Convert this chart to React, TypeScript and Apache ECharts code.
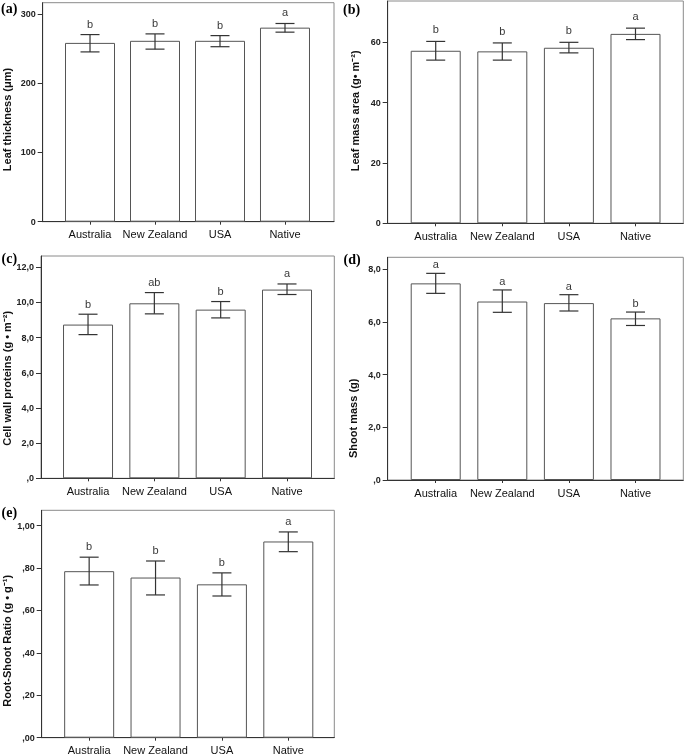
import React, { useEffect, useRef } from 'react';
import * as echarts from 'echarts';

const categories = ['Australia', 'New Zealand', 'USA', 'Native'];
const categoryPositions = [0, 1, 2, 3];

// (a) Leaf thickness
const thicknessMean = [258, 261, 261, 280];
const thicknessHigh = [270, 271, 268.5, 286];
const thicknessLow = [245, 249, 252.5, 273.5];
const thicknessLetters = ['b', 'b', 'b', 'a'];
const thicknessTicks = [0, 100, 200, 300];
const thicknessTickLabels = ['0', '100', '200', '300'];

// (b) Leaf mass area
const lmaMean = [57.2, 57.0, 58.2, 62.8];
const lmaHigh = [60.3, 59.8, 60.0, 64.7];
const lmaLow = [54.1, 54.1, 56.5, 60.9];
const lmaLetters = ['b', 'b', 'b', 'a'];
const lmaTicks = [0, 20, 40, 60];
const lmaTickLabels = ['0', '20', '40', '60'];

// (c) Cell wall proteins
const cwpMean = [8.74, 9.95, 9.59, 10.73];
const cwpHigh = [9.33, 10.56, 10.05, 11.05];
const cwpLow = [8.17, 9.35, 9.12, 10.45];
const cwpLetters = ['b', 'ab', 'b', 'a'];
const cwpTicks = [0, 2, 4, 6, 8, 10, 12];
const cwpTickLabels = [',0', '2,0', '4,0', '6,0', '8,0', '10,0', '12,0'];

// (d) Shoot mass
const shootMean = [7.47, 6.78, 6.72, 6.14];
const shootHigh = [7.85, 7.22, 7.04, 6.38];
const shootLow = [7.09, 6.37, 6.42, 5.87];
const shootLetters = ['a', 'a', 'a', 'b'];
const shootTicks = [0, 2, 4, 6, 8];
const shootTickLabels = [',0', '2,0', '4,0', '6,0', '8,0'];

// (e) Root-shoot ratio
const rsrMean = [0.785, 0.755, 0.723, 0.925];
const rsrHigh = [0.851, 0.833, 0.777, 0.97];
const rsrLow = [0.72, 0.673, 0.668, 0.877];
const rsrLetters = ['b', 'b', 'b', 'a'];
const rsrTicks = [0, 0.2, 0.4, 0.6, 0.8, 1.0];
const rsrTickLabels = [',00', ',20', ',40', ',60', ',80', '1,00'];

const SANS = 'Arial, "Liberation Sans", Helvetica, sans-serif';
const SERIF = '"Times New Roman", "Liberation Serif", serif';

const panels = [
  {
    label: '(a)', labelPos: [1, 8.5], title: 'Leaf thickness (μm)', titlePos: [7, 119.5],
    mean: thicknessMean, high: thicknessHigh, low: thicknessLow, letters: thicknessLetters,
    ticks: thicknessTicks, tickLabels: thicknessTickLabels, yMax: 316,
    grid: { left: 42.7, top: 2.7, width: 291.3, height: 219 }, xMin: -0.728, xMax: 3.754, letterOffset: 11,
  },
  {
    label: '(b)', labelPos: [343, 9.5], title: 'Leaf mass area (g• m⁻²)', titlePos: [354.7, 110.8],
    mean: lmaMean, high: lmaHigh, low: lmaLow, letters: lmaLetters,
    ticks: lmaTicks, tickLabels: lmaTickLabels, yMax: 73.7,
    grid: { left: 387.7, top: 1, width: 295.6, height: 222.3 }, xMin: -0.721, xMax: 3.718, letterOffset: 12,
  },
  {
    label: '(c)', labelPos: [1.5, 258.5], title: 'Cell wall proteins (g • m⁻²)', titlePos: [6.7, 378.3],
    mean: cwpMean, high: cwpHigh, low: cwpLow, letters: cwpLetters,
    ticks: cwpTicks, tickLabels: cwpTickLabels, yMax: 12.64,
    grid: { left: 41, top: 256, width: 293.3, height: 222.3 }, xMin: -0.709, xMax: 3.713, letterOffset: 10.5,
  },
  {
    label: '(d)', labelPos: [343.5, 259.5], title: 'Shoot mass (g)', titlePos: [353.3, 418.3],
    mean: shootMean, high: shootHigh, low: shootLow, letters: shootLetters,
    ticks: shootTicks, tickLabels: shootTickLabels, yMax: 8.46,
    grid: { left: 387.7, top: 257.3, width: 295.6, height: 222.7 }, xMin: -0.721, xMax: 3.718, letterOffset: 9,
  },
  {
    label: '(e)', labelPos: [1.5, 512.5], title: 'Root-Shoot Ratio (g • g⁻¹)', titlePos: [6.7, 640.8],
    mean: rsrMean, high: rsrHigh, low: rsrLow, letters: rsrLetters,
    ticks: rsrTicks, tickLabels: rsrTickLabels, yMax: 1.072,
    grid: { left: 41.7, top: 510.3, width: 292.6, height: 227.4 }, xMin: -0.715, xMax: 3.693, letterOffset: 11.2,
  },
];

function buildOption() {
  const grid: any[] = [];
  const xAxis: any[] = [];
  const yAxis: any[] = [];
  const series: any[] = [];
  const graphic: any[] = [];

  panels.forEach((p, i) => {
    grid.push({
      ...p.grid,
      show: true,
      borderColor: '#8a8a8a',
      borderWidth: 1,
      backgroundColor: 'transparent',
      containLabel: false,
    });
    xAxis.push({
      type: 'value',
      gridIndex: i,
      min: p.xMin,
      max: p.xMax,
      splitLine: { show: false },
      axisLine: { show: true, onZero: false, lineStyle: { color: '#333', width: 1 } },
      axisTick: { show: true, length: 3, customValues: categoryPositions, lineStyle: { color: '#333' } },
      axisLabel: {
        customValues: categoryPositions,
        formatter: (v: number) => categories[Math.round(v)] ?? '',
        fontSize: 11,
        fontFamily: SANS,
        color: '#111',
        margin: 7,
      },
    });
    yAxis.push({
      type: 'value',
      gridIndex: i,
      min: 0,
      max: p.yMax,
      splitLine: { show: false },
      axisLine: { show: true, onZero: false, lineStyle: { color: '#333', width: 1 } },
      axisTick: { show: true, length: 5, customValues: p.ticks, lineStyle: { color: '#333' } },
      axisLabel: {
        customValues: p.ticks,
        formatter: (v: number) => {
          const k = p.ticks.findIndex((t) => Math.abs(t - v) < 1e-6);
          return k >= 0 ? p.tickLabels[k] : '';
        },
        fontSize: 9,
        fontWeight: 'bold',
        fontFamily: SANS,
        color: '#222',
        margin: 7,
      },
    });
    series.push({
      type: 'bar',
      xAxisIndex: i,
      yAxisIndex: i,
      barWidth: 50,
      data: categoryPositions.map((x, k) => [x, p.mean[k]]),
      itemStyle: { color: '#ffffff', borderColor: '#555', borderWidth: 1 },
      silent: true,
    });
    series.push({
      type: 'custom',
      xAxisIndex: i,
      yAxisIndex: i,
      encode: { x: 0, y: [1, 2] },
      data: categoryPositions.map((x, k) => [x, p.high[k], p.low[k]]),
      z: 5,
      silent: true,
      renderItem: (params: any, api: any) => {
        const x = api.value(0);
        const hi = api.coord([x, api.value(1)]);
        const lo = api.coord([x, api.value(2)]);
        const cap = 9.5;
        const ls = { stroke: '#333', lineWidth: 1.2, fill: null };
        return {
          type: 'group',
          children: [
            { type: 'line', shape: { x1: hi[0], y1: hi[1], x2: lo[0], y2: lo[1] }, style: ls },
            { type: 'line', shape: { x1: hi[0] - cap, y1: hi[1], x2: hi[0] + cap, y2: hi[1] }, style: ls },
            { type: 'line', shape: { x1: lo[0] - cap, y1: lo[1], x2: lo[0] + cap, y2: lo[1] }, style: ls },
          ],
        };
      },
    });
    series.push({
      type: 'scatter',
      xAxisIndex: i,
      yAxisIndex: i,
      symbolSize: 0,
      silent: true,
      z: 6,
      itemStyle: { color: 'transparent' },
      data: categoryPositions.map((x, k) => [x, p.high[k]]),
      label: {
        show: true,
        position: 'inside',
        offset: [0, -p.letterOffset],
        formatter: (prm: any) => p.letters[prm.dataIndex],
        color: '#000',
        fontSize: 11,
        fontFamily: SANS,
        align: 'center',
        verticalAlign: 'middle',
      },
    });
    graphic.push({
      type: 'text',
      x: p.labelPos[0],
      y: p.labelPos[1],
      style: {
        text: p.label,
        fill: '#000',
        font: `bold 14px ${SERIF}`,
        align: 'left',
        verticalAlign: 'middle',
      },
    });
    graphic.push({
      type: 'text',
      x: p.titlePos[0],
      y: p.titlePos[1],
      rotation: Math.PI / 2,
      style: {
        text: p.title,
        fill: '#111',
        font: `bold 11px ${SANS}`,
        align: 'center',
        verticalAlign: 'middle',
      },
    });
  });

  return {
    animation: false,
    backgroundColor: '#ffffff',
    grid,
    xAxis,
    yAxis,
    series,
    graphic,
  };
}

export default function App() {
  const ref = useRef<HTMLDivElement>(null);
  useEffect(() => {
    if (!ref.current) return;
    const chart = echarts.init(ref.current, undefined, { renderer: 'svg' });
    chart.setOption(buildOption() as any);
    return () => {
      chart.dispose();
    };
  }, []);
  return (
    <div
      ref={ref}
      style={{
        position: 'absolute',
        left: 0,
        top: 0,
        width: 685,
        height: 756,
        willChange: 'transform',
        opacity: 0.999,
      }}
    />
  );
}
